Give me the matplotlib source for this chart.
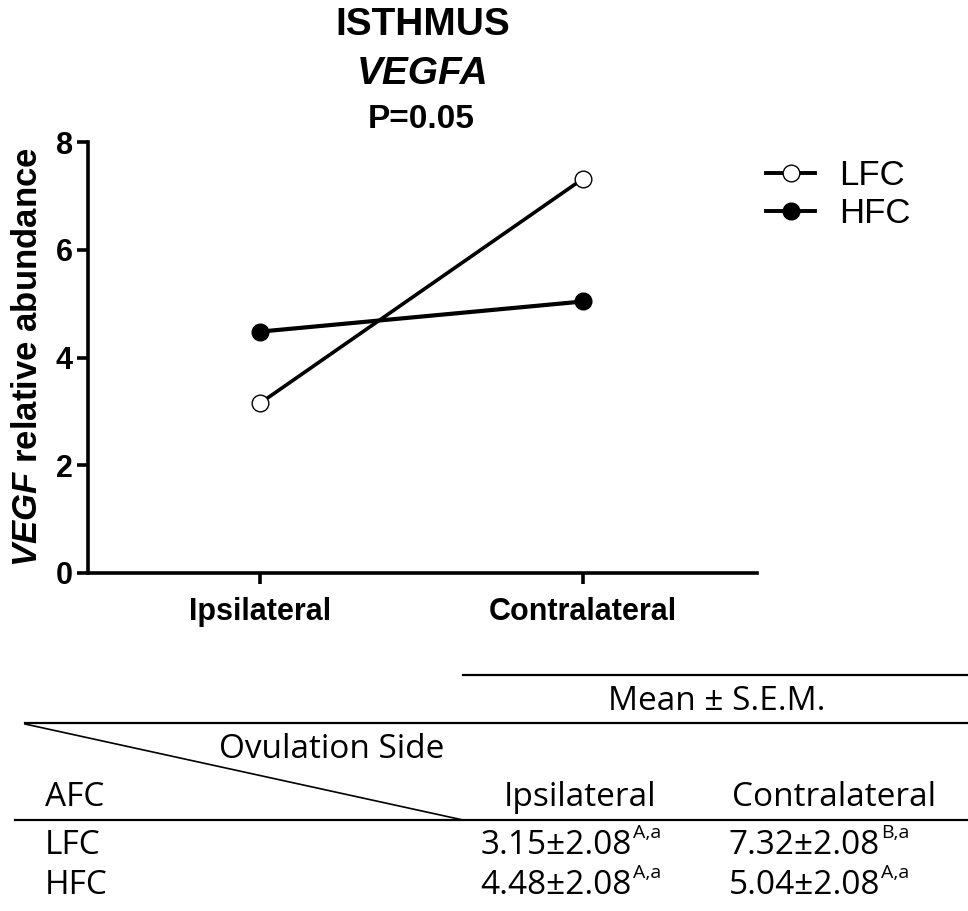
import numpy as np
import matplotlib
matplotlib.use("Agg")
from matplotlib import pyplot as plt
from matplotlib.lines import Line2D

plt.rcParams['font.family'] = ['Liberation Sans', 'DejaVu Sans']
plt.rcParams['mathtext.fontset'] = 'custom'
plt.rcParams['mathtext.rm'] = 'Liberation Sans'
plt.rcParams['mathtext.bf'] = 'Liberation Sans:bold'
plt.rcParams['mathtext.it'] = 'Liberation Sans:italic'
plt.rcParams['mathtext.bfit'] = 'Liberation Sans:bold:italic'

# data
sides = ["Ipsilateral", "Contralateral"]
lfc = [3.15, 7.32]
hfc = [4.48, 5.04]
sem = [2.08, 2.08]
lfc_sup = ["A,a", "B,a"]
hfc_sup = ["A,a", "A,a"]
yticks = [0, 2, 4, 6, 8]

W, H = 968, 911
fig = plt.figure(figsize=(W / 100, H / 100), dpi=100)

def fx(px):
  return px / W

def fy(py):
  return 1 - py / H

ax = fig.add_axes([fx(88), fy(573), fx(757) - fx(88), fy(142) - fy(573)])
x = np.arange(len(sides))
ax.plot(x, hfc, color="black", lw=3.0, marker="o", ms=12, mfc="black", mec="black", label="HFC", zorder=3)
ax.plot(x, lfc, color="black", lw=2.6, marker="o", ms=12, mfc="white", mec="black", mew=1.0, label="LFC", zorder=3)

ax.set_xlim(-0.532, 1.538)
ax.set_ylim(0, 8)
ax.set_yticks(yticks)
ax.set_xticks(x)
ax.set_xticklabels(sides)
for s in ["top", "right"]:
  ax.spines[s].set_visible(False)
for s in ["left", "bottom"]:
  ax.spines[s].set_linewidth(2.6)
ax.tick_params(axis="both", width=2.6, length=8, labelsize=22)
ax.tick_params(axis="x", pad=9)
ax.tick_params(axis="y", pad=3)
for lab in ax.get_xticklabels() + ax.get_yticklabels():
  lab.set_fontweight("bold")
ax.set_ylabel(r"$\mathbfit{VEGF}$ relative abundance", fontsize=25, fontweight="bold", labelpad=8)

handles = [
  Line2D([], [], color="black", lw=2.8, marker="o", ms=12, mfc="white", mec="black", mew=1.0),
  Line2D([], [], color="black", lw=2.8, marker="o", ms=12, mfc="black", mec="black"),
]
fig.legend(handles, ["LFC", "HFC"], loc="upper left", bbox_to_anchor=(fx(735), fy(128)),
           frameon=False, fontsize=25, handlelength=1.4, labelspacing=0.15, handletextpad=0.7)

# titles
fig.text(fx(423), fy(25), "ISTHMUS", ha="center", va="center", fontsize=28, fontweight="bold")
fig.text(fx(423), fy(74), "VEGFA", ha="center", va="center", fontsize=28, fontweight="bold", style="italic")
fig.text(fx(421), fy(120), "P=0.05", ha="center", va="center", fontsize=24, fontweight="bold")

# table below
tf = dict(fontsize=24, family=["Open Sans", "DejaVu Sans"])
fig.add_artist(Line2D([fx(463), fx(968)], [fy(675), fy(675)], color="black", lw=1.6))
fig.add_artist(Line2D([fx(25), fx(968)], [fy(723), fy(723)], color="black", lw=1.6))
fig.add_artist(Line2D([fx(15), fx(968)], [fy(820), fy(820)], color="black", lw=1.6))
fig.add_artist(Line2D([fx(25), fx(463)], [fy(724), fy(820)], color="black", lw=1.2))
fig.text(fx(717), fy(702), "Mean ± S.E.M.", ha="center", va="center", **tf)
fig.text(fx(332), fy(750), "Ovulation Side", ha="center", va="center", **tf)
fig.text(fx(45), fy(798), "AFC", ha="left", va="center", **tf)
fig.text(fx(580), fy(798), sides[0], ha="center", va="center", **tf)
fig.text(fx(834), fy(798), sides[1], ha="center", va="center", **tf)
rows = [("LFC", lfc, lfc_sup), ("HFC", hfc, hfc_sup)]
for i, (name, vals, sups) in enumerate(rows):
  yy = fy(846 + 40 * i)
  fig.text(fx(45), yy, name, ha="left", va="center", **tf)
  for j, rx in enumerate([632, 880]):
    fig.text(fx(rx), yy, f"{vals[j]:.2f}±{sem[j]:.2f}", ha="right", va="center", **tf)
    fig.text(fx(rx + 1), yy + 13 / H, sups[j], ha="left", va="center",
             fontsize=14, family=["Open Sans", "DejaVu Sans"])

fig.savefig("out.png", dpi=100)
